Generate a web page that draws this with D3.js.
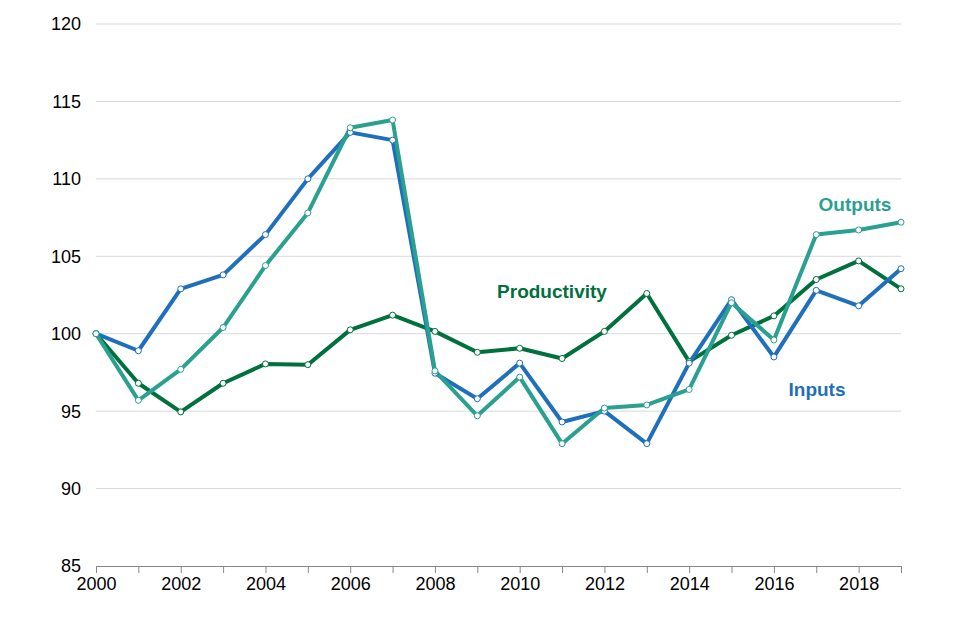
<!DOCTYPE html>
<html><head><meta charset="utf-8">
<script src="https://cdn.jsdelivr.net/npm/d3@7"></script>
<style>body{margin:0;background:#fff}svg{display:block}text{font-family:"Liberation Sans",Arial,sans-serif}</style>
</head><body><svg id="c" width="960" height="640"></svg>
<script>
const years = d3.range(2000, 2020);
const inputs = [100, 98.9, 102.9, 103.8, 106.4, 110.0, 113.0, 112.5, 97.45, 95.8, 98.1, 94.3, 95.0, 92.9, 98.1, 102.2, 98.5, 102.8, 101.8, 104.2];
const outputs = [100, 95.7, 97.7, 100.4, 104.4, 107.8, 113.3, 113.8, 97.6, 94.7, 97.2, 92.9, 95.2, 95.4, 96.4, 102.0, 99.6, 106.4, 106.7, 107.2];
const productivity = [100, 96.8, 94.95, 96.8, 98.05, 98.0, 100.25, 101.2, 100.15, 98.8, 99.06, 98.4, 100.15, 102.6, 98.2, 99.9, 101.15, 103.5, 104.7, 102.9];
const yTicks = [85, 90, 95, 100, 105, 110, 115, 120];
const xTickLabels = [2000, 2002, 2004, 2006, 2008, 2010, 2012, 2014, 2016, 2018];

const series = [
  {name: "Productivity", values: productivity, color: "#00703c", lx: 552, ly: 298},
  {name: "Inputs", values: inputs, color: "#1f6fbd", lx: 817, ly: 396},
  {name: "Outputs", values: outputs, color: "#2aa090", lx: 855, ly: 211}
];

const svg = d3.select("#c");
const x = d3.scaleLinear().domain([2000, 2019]).range([96, 901]);
const y = d3.scaleLinear().domain([85, 120]).range([566, 24]);

// gridlines
svg.append("g").selectAll("line").data(yTicks.filter(t => t > 85)).join("line")
  .attr("x1", x(2000)).attr("x2", x(2019))
  .attr("y1", d => y(d)).attr("y2", d => y(d))
  .attr("stroke", "#d9d9d9").attr("stroke-width", 1);

// y labels
svg.append("g").selectAll("text").data(yTicks).join("text")
  .attr("x", 81).attr("y", d => y(d)).attr("dy", "0.36em")
  .attr("text-anchor", "end").attr("font-size", 18).attr("fill", "#000")
  .text(d => d);

// x axis
const xAxis = d3.axisBottom(x).tickValues(years).tickSize(7).tickFormat(d => xTickLabels.includes(d) ? d : "");
const gx = svg.append("g").attr("transform", `translate(0,${y(85)})`).call(xAxis);
gx.select(".domain").attr("stroke", "#888");
gx.selectAll(".tick line").attr("stroke", "#888");
gx.selectAll(".tick text").attr("font-size", 18).attr("fill", "#000")
  .attr("font-family", "Liberation Sans, Arial, sans-serif").attr("y", 7).attr("dy", "0.95em");

const line = d3.line().x((d, i) => x(years[i])).y(d => y(d));

series.forEach(s => {
  svg.append("path").datum(s.values).attr("d", line)
    .attr("fill", "none").attr("stroke", s.color).attr("stroke-width", 4)
    .attr("stroke-linejoin", "round");
});
series.forEach(s => {
  svg.append("g").selectAll("circle").data(s.values).join("circle")
    .attr("cx", (d, i) => x(years[i])).attr("cy", d => y(d)).attr("r", 3)
    .attr("fill", "#fff").attr("stroke", s.color).attr("stroke-width", 1);
});
series.forEach(s => {
  svg.append("text").attr("x", s.lx).attr("y", s.ly).attr("text-anchor", "middle")
    .attr("font-size", 19).attr("font-weight", "bold").attr("fill", s.color).text(s.name);
});
</script></body></html>
